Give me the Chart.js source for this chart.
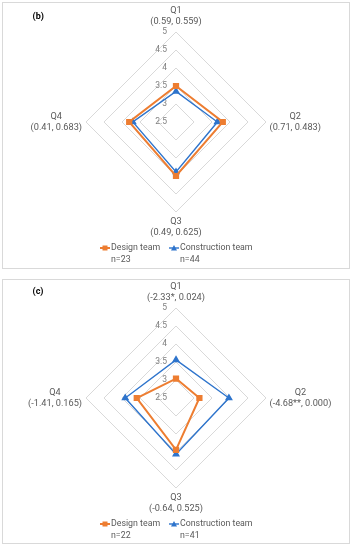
<!DOCTYPE html>
<html>
<head>
<meta charset="utf-8">
<script src="https://cdn.jsdelivr.net/npm/chart.js@4"></script>
<style>
  body { margin: 0; background: #fff; width: 353px; height: 550px; position: relative; overflow: hidden; }
  .caja { position: absolute; left: 2px; width: 346px; border: 1px solid #d9d9d9; }
  #cajaB { top: 2px; height: 265px; }
  #cajaC { top: 279px; height: 263px; }
  canvas { display: block; }
</style>
</head>
<body>
<div class="caja" id="cajaB"><canvas id="graficoB" width="346" height="265"></canvas></div>
<div class="caja" id="cajaC"><canvas id="graficoC" width="346" height="263"></canvas></div>
<script>
// Datos
const preguntas = ['Q1', 'Q2', 'Q3', 'Q4'];
const estadisticosB = ['(0.59, 0.559)', '(0.71, 0.483)', '(0.49, 0.625)', '(0.41, 0.683)'];
const estadisticosC = ['(-2.33*, 0.024)', '(-4.68**, 0.000)', '(-0.64, 0.525)', '(-1.41, 0.165)'];

const disenoB = [3.5, 3.8, 4.0, 3.8];
const construccionB = [3.35, 3.65, 3.89, 3.7];
const disenoC = [3.04, 3.15, 3.94, 3.59];
const construccionC = [3.56, 3.97, 4.06, 3.91];

const equipos = ['Design team', 'Construction team'];
const muestrasB = ['n=23', 'n=44'];
const muestrasC = ['n=22', 'n=41'];

const escalaMin = 2.5;
const escalaMax = 5;
const escalaPaso = 0.5;

const NARANJA = '#ED7D31';
const AZUL = '#2E74CC';
const FUENTE = 'Roboto, "Liberation Sans", sans-serif';

// Etiquetas de ejes, ticks, título y leyenda dibujadas a mano
const etiquetasPlugin = {
  id: 'etiquetas',
  beforeDatasetsDraw(chart, args, opts) {
    const r = chart.scales.r;
    const ctx = chart.ctx;
    ctx.save();

    // ticks a la izquierda del eje vertical
    ctx.font = '8.5px ' + FUENTE;
    ctx.fillStyle = '#808080';
    ctx.textAlign = 'right';
    ctx.textBaseline = 'middle';
    r.ticks.forEach(t => {
      const p = r.getPointPositionForValue(0, t.value);
      ctx.fillText(String(t.value), p.x - 9, p.y);
    });

    // etiquetas de cada pregunta
    ctx.font = '9.2px ' + FUENTE;
    ctx.fillStyle = '#595959';
    ctx.textAlign = 'center';
    const lineaH = 11;
    chart.data.labels.forEach((lineas, i) => {
      const w = Math.max(...lineas.map(s => ctx.measureText(s).width));
      let p, x, y;
      if (i === 0) {
        p = r.getPointPosition(i, r.drawingArea + 10.5);
        x = p.x; y = p.y - (lineas.length - 1) * lineaH;
      } else if (i === 2) {
        p = r.getPointPosition(i, r.drawingArea + 9.5);
        x = p.x; y = p.y;
      } else if (i === 1) {
        p = r.getPointPosition(i, r.drawingArea + 3.5);
        x = p.x + w / 2; y = p.y - (lineas.length - 1) * lineaH / 2;
      } else {
        p = r.getPointPosition(i, r.drawingArea + 4);
        x = p.x - w / 2; y = p.y - (lineas.length - 1) * lineaH / 2;
      }
      lineas.forEach((s, k) => ctx.fillText(s, x, y + k * lineaH));
    });

    // título del panel
    ctx.font = 'bold 9px ' + FUENTE;
    ctx.fillStyle = '#000';
    ctx.textAlign = 'left';
    ctx.fillText(opts.titulo, 29.5, opts.tituloY);

    // leyenda
    const yLeyenda = chart.chartArea.bottom + 36;
    const columnas = [97, 166];
    ctx.font = '8.8px ' + FUENTE;
    chart.data.datasets.forEach((ds, i) => {
      const x0 = columnas[i];
      ctx.strokeStyle = ds.borderColor;
      ctx.fillStyle = ds.borderColor;
      ctx.lineWidth = ds.borderWidth;
      ctx.beginPath();
      ctx.moveTo(x0, yLeyenda);
      ctx.lineTo(x0 + 10, yLeyenda);
      ctx.stroke();
      ctx.beginPath();
      if (ds.pointStyle === 'rect') {
        ctx.rect(x0 + 2.5, yLeyenda - 2.5, 5, 5);
      } else {
        ctx.moveTo(x0 + 5, yLeyenda - 3);
        ctx.lineTo(x0 + 8, yLeyenda + 2.5);
        ctx.lineTo(x0 + 2, yLeyenda + 2.5);
        ctx.closePath();
      }
      ctx.fill();
      ctx.fillStyle = '#595959';
      ctx.fillText(ds.label, x0 + 11, yLeyenda);
      ctx.fillText(opts.muestras[i], x0 + 11, yLeyenda + 11.5);
    });

    ctx.restore();
  }
};

function crearRadar(idCanvas, estadisticos, diseno, construccion, muestras, titulo, tituloY, padding) {
  const ctx = document.getElementById(idCanvas).getContext('2d');
  return new Chart(ctx, {
    type: 'radar',
    data: {
      labels: preguntas.map((q, i) => [q, estadisticos[i]]),
      datasets: [
        {
          label: equipos[0],
          data: diseno,
          borderColor: NARANJA,
          backgroundColor: NARANJA,
          pointBackgroundColor: NARANJA,
          pointBorderColor: NARANJA,
          borderWidth: 2,
          pointStyle: 'rect',
          pointRadius: 3,
          fill: false
        },
        {
          label: equipos[1],
          data: construccion,
          borderColor: AZUL,
          backgroundColor: AZUL,
          pointBackgroundColor: AZUL,
          pointBorderColor: AZUL,
          borderWidth: 1.4,
          pointStyle: 'triangle',
          pointRadius: 3.2,
          fill: false
        }
      ]
    },
    options: {
      responsive: false,
      animation: false,
      layout: { padding: padding },
      plugins: {
        legend: { display: false },
        tooltip: { enabled: false },
        etiquetas: { titulo: titulo, tituloY: tituloY, muestras: muestras }
      },
      scales: {
        r: {
          min: escalaMin,
          max: escalaMax,
          ticks: { stepSize: escalaPaso, display: false },
          grid: { circular: false, color: '#d9d9d9', lineWidth: 1 },
          angleLines: { display: false },
          pointLabels: { display: false }
        }
      }
    },
    plugins: [etiquetasPlugin]
  });
}

window.onload = function () {
  crearRadar('graficoB', estadisticosB, disenoB, construccionB, muestrasB, '(b)', 13.7,
    { left: 83, right: 83, top: 29, bottom: 56 });
  crearRadar('graficoC', estadisticosC, disenoC, construccionC, muestrasC, '(c)', 11.7,
    { left: 83, right: 83, top: 28, bottom: 55 });
};
</script>
</body>
</html>
